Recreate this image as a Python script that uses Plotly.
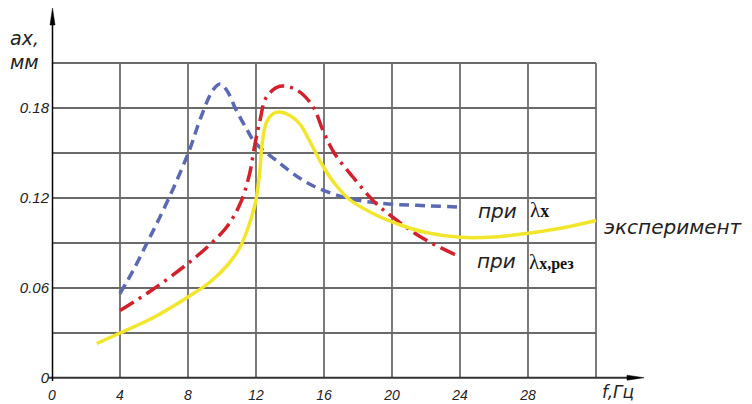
import plotly.graph_objects as go

# ---- data ----
blue_x = [4, 4.78, 5.57, 6.25, 7.2, 8.12, 8.7, 9.47, 9.88, 10.27, 10.86, 11.45, 11.94, 13.2, 14.6, 15.76, 17.53, 19.5, 21.45, 24]
blue_y = [0.0563, 0.0718, 0.0896, 0.105, 0.128, 0.153, 0.172, 0.192, 0.196, 0.192, 0.178, 0.166, 0.157, 0.145, 0.133, 0.126, 0.1196, 0.1163, 0.1151, 0.114]

red_x = [4, 5.8, 7.5, 8.5, 9.3, 10.3, 11.06, 11.6, 11.94, 12.24, 12.6, 13.4, 14.4, 15.35, 15.94, 16.6, 17.7, 19.0, 20.3, 21.84, 24]
red_y = [0.045, 0.058, 0.072, 0.081, 0.089, 0.101, 0.116, 0.135, 0.156, 0.172, 0.187, 0.1945, 0.192, 0.181, 0.165, 0.150, 0.134, 0.117, 0.105, 0.093, 0.0807]

yel_x = [2.63, 4, 6, 8, 9.3, 10.3, 11.0, 11.5, 11.95, 12.2, 12.35, 12.6, 13.0, 13.4, 14.0, 14.6, 15.2, 15.9, 16.6, 17.5, 19.0, 20.5, 22.0, 24, 26, 28, 30, 32]
yel_y = [0.023, 0.030, 0.0405, 0.054, 0.064, 0.075, 0.086, 0.099, 0.116, 0.135, 0.155, 0.170, 0.1762, 0.1773, 0.175, 0.169, 0.157, 0.142, 0.130, 0.119, 0.109, 0.102, 0.097, 0.0938, 0.094, 0.0965, 0.100, 0.105]

x_ticks = [0, 4, 8, 12, 16, 20, 24, 28]
x_tick_labels = ["0", "4", "8", "12", "16", "20", "24", "28"]
y_ticks = [0, 0.06, 0.12, 0.18]
y_tick_labels = ["0", "0.06", "0.12", "0.18"]
x_grid = [4, 8, 12, 16, 20, 24, 28, 32]
y_grid = [0.03, 0.06, 0.09, 0.12, 0.15, 0.18, 0.21]

W, H = 752, 404
ML, MR, MT, MB = 52, 0, 0, 26
PW, PH = W - ML - MR, H - MT - MB
XMAX = PW / 17.0
YMAX = PH / 1500.0


def px(xp):
    return (xp - ML) / PW


def py(yp):
    return (MT + PH - yp) / PH


BLUE = "#5b68b2"
RED = "#d3212b"
YEL = "#f2e62c"

fig = go.Figure()
fig.add_trace(go.Scatter(x=blue_x, y=blue_y, mode="lines", line=dict(color=BLUE, width=3.5, dash="10px,6px", shape="spline", smoothing=1.0), hoverinfo="skip"))
fig.add_trace(go.Scatter(x=red_x, y=red_y, mode="lines", line=dict(color=RED, width=3.5, dash="16px,6px,3px,6px", shape="spline", smoothing=1.0), hoverinfo="skip"))
fig.add_trace(go.Scatter(x=yel_x, y=yel_y, mode="lines", line=dict(color=YEL, width=3.5, shape="spline", smoothing=1.0), hoverinfo="skip"))

shapes = []
for gx in x_grid:
    shapes.append(dict(type="line", xref="x", yref="y", x0=gx, x1=gx, y0=0, y1=y_grid[-1], line=dict(color="#222222", width=1.2), layer="below"))
for gy in y_grid:
    shapes.append(dict(type="line", xref="x", yref="y", x0=0, x1=x_grid[-1], y0=gy, y1=gy, line=dict(color="#6a6a6a", width=2), layer="below"))

# axes with arrows
shapes.append(dict(type="line", xref="paper", yref="paper", x0=px(48), x1=px(630), y0=py(377.7), y1=py(377.7), line=dict(color="#333333", width=2)))
shapes.append(dict(type="path", xref="paper", yref="paper",
                   path=f"M {px(644)},{py(377.7)} L {px(627)},{py(375.2)} L {px(627)},{py(380.2)} Z",
                   fillcolor="black", line=dict(color="black", width=0.5)))
shapes.append(dict(type="line", xref="paper", yref="paper", x0=px(52.5), x1=px(52.5), y0=py(381), y1=py(24), line=dict(color="black", width=1.5)))
shapes.append(dict(type="path", xref="paper", yref="paper",
                   path=f"M {px(52.5)},{py(8)} L {px(50)},{py(25)} L {px(55)},{py(25)} Z",
                   fillcolor="black", line=dict(color="black", width=0.5)))

TXT = dict(family="DejaVu Sans", color="#222222", style="italic")
SER = dict(family="Liberation Serif", color="#111111")


def ann(text, xl, yc, font, xanchor="left", yanchor="middle"):
    return dict(text=text, xref="paper", yref="paper", x=px(xl), y=py(yc), xanchor=xanchor, yanchor=yanchor, showarrow=False, font=font)


annotations = [
    ann("ax,", 8, 38, dict(TXT, size=19)),
    ann("мм", 8, 62, dict(TXT, size=19)),
    ann("f,Гц", 600, 404, dict(TXT, size=17), yanchor="bottom"),
    ann("при", 476, 211, dict(TXT, size=20)),
    ann("<span style='font-size:21px'>λ</span><b>x</b>", 528, 210, dict(SER, size=18)),
    ann("эксперимент", 602, 227, dict(TXT, size=20)),
    ann("при", 475, 261, dict(TXT, size=20)),
    ann("<span style='font-size:21px'>λ</span><b>x,рез</b>", 527, 262, dict(SER, size=16)),
]

tickfont = dict(family="Liberation Sans", size=14, color="#222222", style="italic")
fig.update_layout(
    width=W, height=H, autosize=False,
    margin=dict(l=ML, r=MR, t=MT, b=MB, pad=0, autoexpand=False),
    paper_bgcolor="white", plot_bgcolor="white",
    showlegend=False,
    shapes=shapes, annotations=annotations,
    xaxis=dict(range=[0, XMAX], showgrid=False, zeroline=False, showline=False, tickmode="array",
               tickvals=x_ticks, ticktext=x_tick_labels, ticks="", tickfont=tickfont, fixedrange=True,
               ticklabelstandoff=7, automargin=False),
    yaxis=dict(range=[0, YMAX], showgrid=False, zeroline=False, showline=False, tickmode="array",
               tickvals=y_ticks, ticktext=y_tick_labels, ticks="", tickfont=dict(tickfont, size=15), fixedrange=True,
               ticklabelstandoff=2, automargin=False),
)

fig.write_html("out.html")
